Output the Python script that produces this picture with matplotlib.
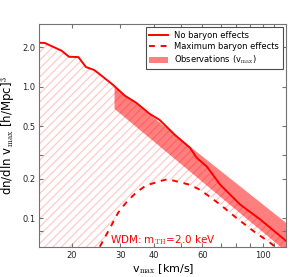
import numpy as np
import matplotlib
matplotlib.use("Agg")
import matplotlib.pyplot as plt

plt.rcParams['mathtext.fontset'] = 'cm'
plt.rcParams['hatch.color'] = '#ffc4c4'
plt.rcParams['hatch.linewidth'] = 0.8

# no baryon effects (solid)
v_nobar = [15.2, 15.9, 18.3, 19.5, 21.1, 22.5, 24.1, 25.3, 28.3, 31.2, 34.3, 38.6,
           41.9, 47.6, 54.1, 57.2, 62.3, 69.7, 82.5, 97.7, 121.7]
n_nobar = [2.16, 2.15, 1.88, 1.69, 1.68, 1.41, 1.34, 1.24, 1.03, 0.855, 0.757, 0.619,
           0.558, 0.43, 0.343, 0.288, 0.247, 0.18, 0.127, 0.0978, 0.067]

# maximum baryon effects (dashed)
v_maxbar = [24.5, 25.3, 27.5, 29.5, 31.7, 34.5, 37.3, 41.9, 44.9, 48.9, 53.2, 58.0,
            62.3, 69.7, 79.7, 92.1, 106.3, 115.7, 122.0]
n_maxbar = [0.05, 0.0608, 0.0836, 0.110, 0.133, 0.158, 0.177, 0.191, 0.198, 0.189, 0.181,
            0.167, 0.151, 0.127, 0.101, 0.080, 0.065, 0.056, 0.052]

# observations band
v_obs = [28.5, 122.0]
n_obs_lo = [0.684, 0.0556]
n_obs_hi = [1.01, 0.0917]

xtick_vals = [20, 30, 40, 50, 60, 70, 80, 90, 100, 110]
xtick_labs = ['20', '30', '40', '', '60', '', '', '', '100', '']
ytick_vals = [0.08, 0.1, 0.2, 0.3, 0.5, 1.0, 2.0]
ytick_labs = ['', '0.1', '0.2', '', '0.5', '1.0', '2.0']

fig = plt.figure(figsize=(2.96, 2.77), dpi=100)
ax = fig.add_axes([0.1334, 0.1072, 0.8328, 0.8062])
ax.set_xscale('log')
ax.set_yscale('log')

# hatched region between the two curves
poly_x = v_nobar + v_maxbar[::-1] + [15.0]
poly_y = n_nobar + n_maxbar[::-1] + [0.05]
ax.fill(poly_x, poly_y, facecolor='none', edgecolor='#ffc4c4', hatch='////', linewidth=0)

ax.fill_between(v_obs, n_obs_lo, n_obs_hi, color='red', alpha=0.5, linewidth=0,
                label=r'Observations (v$_{\rm max}$)')
ax.plot(v_nobar, n_nobar, color='red', lw=1.4, label='No baryon effects')
ax.plot(v_maxbar, n_maxbar, color='red', lw=1.4, ls='--', dashes=(3, 3),
        label='Maximum baryon effects')

ax.text(27.5, 0.064, r'WDM: m$_{\rm TH}$=2.0 keV', color='red', fontsize=7.5)

ax.set_xlim(15.2, 121.5)
ax.set_ylim(0.06, 3.0)
ax.minorticks_off()
ax.set_xticks(xtick_vals)
ax.set_xticklabels(xtick_labs)
ax.set_yticks(ytick_vals)
ax.set_yticklabels(ytick_labs)
ax.tick_params(direction='in', top=True, right=True, labelsize=6, length=3,
               color='0.45', labelcolor='0.15', pad=3)
for s in ax.spines.values():
    s.set_color('0.45')

ax.set_xlabel(r'v$_{\rm max}$ [km/s]', fontsize=8, labelpad=1)
ax.set_ylabel(r'dn/dln v$_{\rm max}$ [h/Mpc]$^3$', fontsize=8.5, labelpad=4)

h, l = ax.get_legend_handles_labels()
order = [1, 2, 0]
leg = ax.legend([h[i] for i in order], [l[i] for i in order], loc='upper right',
                fontsize=6, fancybox=False, framealpha=1, edgecolor='0.3',
                handlelength=2.2, borderaxespad=0.4, labelspacing=0.3)
leg.get_frame().set_linewidth(0.8)

fig.savefig('out.png', dpi=100)
